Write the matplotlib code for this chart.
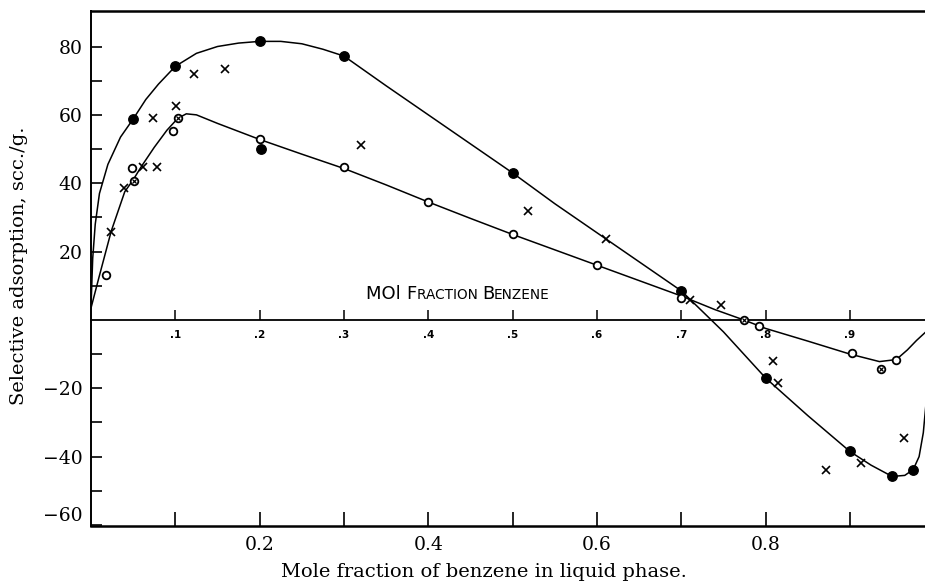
import matplotlib.pyplot as plt
from matplotlib.offsetbox import TextArea, HPacker, AnnotationBbox

# smooth curves
upper_x = [0.0, 0.002, 0.005, 0.01, 0.02, 0.035, 0.05, 0.065, 0.08, 0.1, 0.125, 0.15,
           0.175, 0.2, 0.225, 0.25, 0.275, 0.3, 0.35, 0.4, 0.45, 0.5, 0.55, 0.61, 0.65,
           0.7, 0.75, 0.8, 0.85, 0.9, 0.925, 0.95, 0.965, 0.975, 0.982, 0.987, 0.99]
upper_y = [4, 18, 28, 37, 45.5, 53.5, 58.8, 64.5, 69, 74.2, 78, 80, 81, 81.5, 81.5, 80.8,
           79.2, 77.2, 68.5, 60, 51.5, 43, 34, 23.8, 17, 8.5, -3.5, -17, -28, -38.5, -42.5,
           -45.8, -45.5, -43.8, -40, -33, -25]

lower_x = [0.0, 0.01, 0.024, 0.04, 0.05, 0.06, 0.075, 0.09, 0.103, 0.113, 0.125, 0.15,
           0.2, 0.25, 0.3, 0.35, 0.4, 0.45, 0.5, 0.55, 0.6, 0.65, 0.7, 0.74, 0.774, 0.8,
           0.85, 0.9, 0.935, 0.955, 0.968, 0.979, 0.99]
lower_y = [3.5, 13, 26, 37.5, 41, 45, 50.5, 55.5, 59, 60.3, 60, 57.5, 52.8, 48.5, 44.3,
           39.5, 34.5, 29.7, 25, 20.5, 16, 11.5, 7, 3, 0, -2.5, -6.2, -10, -12.2, -11.6,
           -8.8, -6, -3.5]

# measured points
filled_x = [0.05, 0.1, 0.2, 0.3, 0.5, 0.7, 0.8, 0.9, 0.95, 0.975, 0.201]
filled_y = [58.8, 74.2, 81.5, 77.2, 43, 8.5, -17, -38.5, -45.8, -43.8, 50]

open_x = [0.018, 0.049, 0.097, 0.2, 0.3, 0.4, 0.5, 0.6, 0.7, 0.792, 0.903, 0.955]
open_y = [13.2, 44.4, 55.3, 53, 44.6, 34.6, 25, 16, 6.5, -1.8, -9.8, -11.8]

crossed_x = [0.051, 0.103, 0.774, 0.937]
crossed_y = [40.6, 59, 0, -14.5]

cross_x = [0.024, 0.039, 0.062, 0.078, 0.073, 0.101, 0.122, 0.159, 0.32, 0.518, 0.611,
           0.71, 0.747, 0.809, 0.815, 0.872, 0.913, 0.964]
cross_y = [25.8, 38.5, 44.8, 44.8, 59, 62.7, 72, 73.5, 51.2, 32, 23.8, 5.8, 4.4, -12,
           -18.6, -44, -42, -34.7]

y_major = [-60, -40, -20, 20, 40, 60, 80]
y_minor = [-50, -30, -10, 10, 30, 50, 70]
x_major = [0.2, 0.4, 0.6, 0.8]
x_minor = [0.1, 0.3, 0.5, 0.7, 0.9]
inner_ticks = [0.1, 0.2, 0.3, 0.4, 0.5, 0.6, 0.7, 0.8, 0.9]
inner_labels = ['.1', '.2', '.3', '.4', '.5', '.6', '.7', '.8', '.9']
caption_parts = [("MOl ", True), ("F", True), ("RACTION ", False), ("B", True), ("ENZENE", False)]

plt.rcParams['font.family'] = 'DejaVu Serif'

fig = plt.figure(figsize=(9.25, 5.83), dpi=100)
ax = fig.add_axes([0.0984, 0.0978, 0.9016, 0.8834])

ax.plot(upper_x, upper_y, color='black', lw=1.1, zorder=2)
ax.plot(lower_x, lower_y, color='black', lw=1.1, zorder=2)
ax.plot(filled_x, filled_y, 'o', ms=6.8, mfc='black', mec='black', zorder=4)
ax.plot(open_x, open_y, 'o', ms=5.5, mfc='white', mec='black', mew=1.3, zorder=4)
ax.plot(crossed_x, crossed_y, 'o', ms=5.5, mfc='white', mec='black', mew=1.3, zorder=4)
ax.plot(crossed_x, crossed_y, 'x', ms=3, mec='black', mew=0.9, zorder=5)
ax.plot(cross_x, cross_y, 'x', ms=6.3, mec='black', mew=1.2, zorder=4)

ax.set_xlim(0, 0.989)
ax.set_ylim(-60.3, 90.4)

ax.set_yticks(y_major)
ax.set_yticks(y_minor, minor=True)
ax.set_yticklabels([f"{v:d}".replace('-', '\u2212') for v in y_major])
ax.set_xticks(x_major)
ax.set_xticks(x_minor, minor=True)
ax.set_xticklabels([f"{v:.1f}" for v in x_major])
ax.tick_params(axis='both', which='both', direction='in', width=1.2, labelsize=13.5)
ax.tick_params(axis='y', which='both', length=8, pad=6)
ax.tick_params(axis='x', which='both', length=10, pad=7)
ax.tick_params(top=False, right=False)
ax.get_yticklabels()[0].set_va('bottom')

ax.spines['right'].set_visible(False)
ax.spines['top'].set_linewidth(1.8)
ax.spines['bottom'].set_linewidth(1.8)
ax.spines['left'].set_linewidth(1.4)

# zero line with its own scale
ymin, ymax = ax.get_ylim()
sec = ax.secondary_xaxis((0 - ymin) / (ymax - ymin))
sec.set_xticks(inner_ticks, inner_labels)
sec.tick_params(direction='in', length=7, width=1.1, labelsize=7.5, pad=7)
for lab in sec.get_xticklabels():
    lab.set_fontfamily('DejaVu Sans')
    lab.set_fontweight('bold')
sec.spines['bottom'].set_linewidth(1.3)

parts = [TextArea(s, textprops=dict(fontfamily='DejaVu Sans', fontsize=13 if big else 9.8))
         for s, big in caption_parts]
box = HPacker(children=parts, align='baseline', pad=0, sep=0)
ax.add_artist(AnnotationBbox(box, (0.435, 7.6), xycoords='data', frameon=False,
                             box_alignment=(0.5, 0.5)))

ax.set_ylabel("Selective adsorption, scc./g.", fontsize=14)
ax.yaxis.set_label_coords(-0.076, 0.505)
ax.set_xlabel("Mole fraction of benzene in liquid phase.", fontsize=14)
ax.xaxis.set_label_coords(0.471, -0.072)

fig.savefig("out.png", dpi=100, facecolor='white')
